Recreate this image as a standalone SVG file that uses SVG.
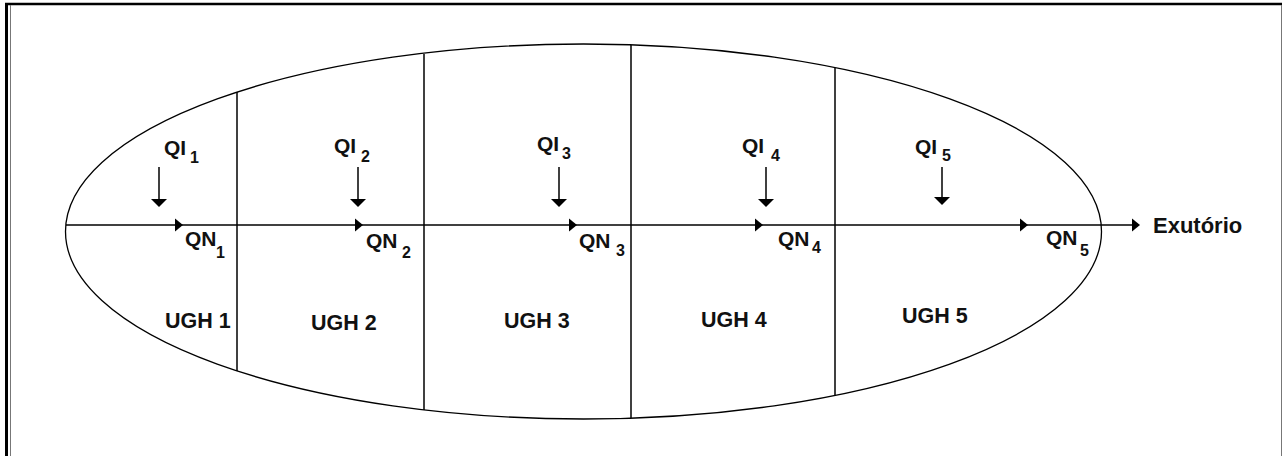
<svg xmlns="http://www.w3.org/2000/svg" width="1283" height="456" viewBox="0 0 1283 456">
<style>
.t{font-family:"Liberation Sans",Arial,sans-serif;font-weight:bold;fill:#111;}
.lab{font-size:21.5px;}
.ex{font-size:22px;}
.q{font-size:21px;}
.s{font-size:16px;}
.ln{stroke:#000;stroke-width:1.5;fill:none;}
.hd{fill:#000;stroke:none;}
</style>
<defs>
<polygon id="ra" points="-8,-6.5 0,0 -8,6.5" class="hd"/>
<polygon id="da" points="-8,-8 8,-8 0,0" class="hd"/>
</defs>
<rect width="1283" height="456" fill="#fff"/>
<g id="frame">
<line x1="6.5" y1="3" x2="6.5" y2="456" stroke="#000" stroke-width="3"/>
<line x1="5" y1="4" x2="1282" y2="4" stroke="#000" stroke-width="2.5"/>
<line x1="10.5" y1="5" x2="10.5" y2="456" stroke="#777" stroke-width="1"/>
<line x1="1281.5" y1="5" x2="1281.5" y2="456" stroke="#777" stroke-width="1"/>
</g>
<g id="basin">
<ellipse cx="583.5" cy="231.5" rx="518" ry="187.5" fill="none" stroke="#000" stroke-width="1.3"/>
<line class="ln" x1="237" y1="92" x2="237" y2="371"/>
<line class="ln" x1="424" y1="54" x2="424" y2="410"/>
<line class="ln" x1="631" y1="45" x2="631" y2="418"/>
<line class="ln" x1="835" y1="68" x2="835" y2="396"/>
</g>
<g id="connectors">
<line class="ln" x1="66" y1="225" x2="1138" y2="225"/>
<use href="#ra" x="183" y="225"/>
<use href="#ra" x="363" y="225"/>
<use href="#ra" x="577" y="225"/>
<use href="#ra" x="763" y="225"/>
<use href="#ra" x="1028" y="225"/>
<use href="#ra" x="1140" y="225"/>
<line class="ln" x1="159" y1="167" x2="159" y2="200"/><use href="#da" x="159" y="207"/>
<line class="ln" x1="358" y1="167" x2="358" y2="200"/><use href="#da" x="358" y="207"/>
<line class="ln" x1="559" y1="167" x2="559" y2="200"/><use href="#da" x="559" y="207"/>
<line class="ln" x1="766" y1="167" x2="766" y2="200"/><use href="#da" x="766" y="207"/>
<line class="ln" x1="942" y1="167" x2="942" y2="198"/><use href="#da" x="942" y="205"/>
</g>
<g id="ugh1">
<text class="t q" x="164" y="155">QI</text><text class="t s" x="190" y="163">1</text>
<text class="t q" x="185" y="246">QN</text><text class="t s" x="216" y="258">1</text>
<text class="t lab" x="165" y="328">UGH 1</text>
</g>
<g id="ugh2">
<text class="t q" x="334" y="153">QI</text><text class="t s" x="361" y="162">2</text>
<text class="t q" x="366" y="248">QN</text><text class="t s" x="402" y="258">2</text>
<text class="t lab" x="311" y="330">UGH 2</text>
</g>
<g id="ugh3">
<text class="t q" x="537" y="151">QI</text><text class="t s" x="562" y="159">3</text>
<text class="t q" x="579" y="248">QN</text><text class="t s" x="616" y="256">3</text>
<text class="t lab" x="504" y="328">UGH 3</text>
</g>
<g id="ugh4">
<text class="t q" x="742" y="153">QI</text><text class="t s" x="771" y="161">4</text>
<text class="t q" x="778" y="246">QN</text><text class="t s" x="812" y="253">4</text>
<text class="t lab" x="701" y="327">UGH 4</text>
</g>
<g id="ugh5">
<text class="t q" x="915" y="154">QI</text><text class="t s" x="942" y="161">5</text>
<text class="t q" x="1046" y="245">QN</text><text class="t s" x="1080" y="256">5</text>
<text class="t lab" x="902" y="323">UGH 5</text>
</g>
<g id="outlet">
<text class="t ex" x="1153" y="233">Exutório</text>
</g>
</svg>
